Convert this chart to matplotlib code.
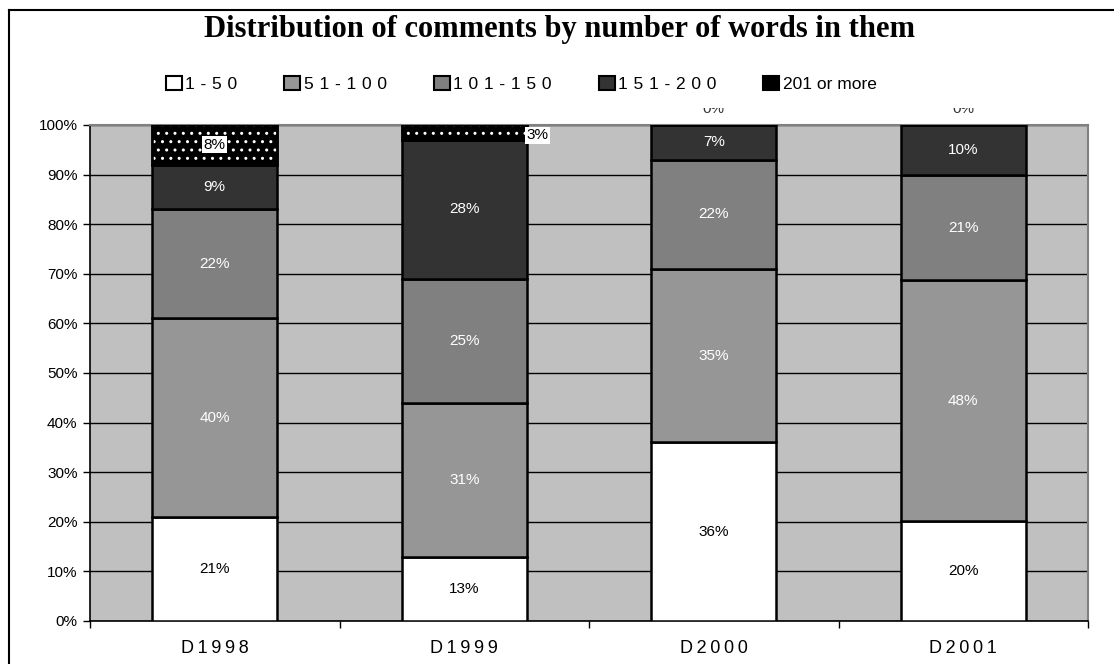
import matplotlib
matplotlib.use("Agg")
import matplotlib.pyplot as plt
from matplotlib.patches import Rectangle
from matplotlib.lines import Line2D
import numpy as np

plt.rcParams['font.family'] = ['Liberation Sans', 'DejaVu Sans']

years = ["D1998", "D1999", "D2000", "D2001"]
bins = ["1-50", "51-100", "101-150", "151-200", "201 or more"]
v_1_50 = [21, 13, 36, 20]
v_51_100 = [40, 31, 35, 48]
v_101_150 = [22, 25, 22, 21]
v_151_200 = [9, 28, 7, 10]
v_201_more = [8, 3, 0, 0]

series = [v_1_50, v_51_100, v_101_150, v_151_200, v_201_more]
fills = ["#ffffff", "#969696", "#808080", "#333333", "#000000"]
label_colors = ["black", "white", "white", "white", "black"]

W, H = 1114, 664
fig = plt.figure(figsize=(W / 100, H / 100), dpi=100)
ax = fig.add_axes([90 / W, 1 - 621 / H, (1088 - 90) / W, (621 - 125) / H])
ax.set_facecolor("#c0c0c0")

data = np.array(series, dtype=float)
totals = data.sum(axis=0)
shares = data / totals * 100
x = np.arange(len(years))
bw = 0.5
lab_fs = 11

bottom = np.zeros(len(years))
for k, (vals, share) in enumerate(zip(series, shares)):
    ax.bar(x, share, bw, bottom=bottom, color=fills[k],
           edgecolor="black", linewidth=1.8, zorder=3)
    if k == 4:
        ax.bar(x, share, bw, bottom=bottom, facecolor="none",
               edgecolor="white", hatch="..", linewidth=0, zorder=4)
        ax.bar(x, share, bw, bottom=bottom, facecolor="none",
               edgecolor="black", linewidth=1.8, zorder=4)
    for i, (v, s) in enumerate(zip(vals, share)):
        cy = bottom[i] + s / 2
        txt = f"{v:.0f}%"
        if k == 4:
            if v == 0:
                ax.text(x[i], 100 + 2.4, txt, ha="center", va="baseline",
                        fontsize=lab_fs, color="#333333", clip_on=False, zorder=2)
            elif s < 5:
                ax.text(x[i] + bw / 2, cy - 0.6, txt, ha="left", va="center",
                        fontsize=lab_fs, color="black", zorder=6,
                        bbox=dict(facecolor="white", edgecolor="none", pad=1))
            else:
                ax.text(x[i], cy, txt, ha="center", va="center",
                        fontsize=lab_fs, color="black", zorder=6,
                        bbox=dict(facecolor="white", edgecolor="none", pad=1))
        else:
            ax.text(x[i], cy, txt, ha="center", va="center", fontsize=lab_fs,
                    color=label_colors[k], zorder=6)
    bottom += share

ax.set_xlim(-0.5, len(years) - 0.5)
ax.set_ylim(0, 100)
ax.set_yticks(np.arange(0, 101, 10))
ax.set_yticklabels([f"{t}%" for t in range(0, 101, 10)], fontsize=11)
ax.yaxis.grid(True, color="black", linewidth=1.0, zorder=1)
ax.set_axisbelow(True)

ax.set_xticks(np.arange(-0.5, len(years)), minor=False)
ax.set_xticklabels([])
ax.set_xticks(x, minor=True)
ax.set_xticklabels(["\u2009".join(y) for y in years], minor=True, fontsize=13)
ax.tick_params(axis="x", which="minor", length=0, pad=14)
ax.tick_params(axis="x", which="major", length=5, direction="out", width=1)
ax.tick_params(axis="y", length=5, direction="out", width=1, pad=4)

for side in ("left", "bottom"):
    ax.spines[side].set_color("black")
    ax.spines[side].set_linewidth(1.2)
for side in ("right", "top"):
    ax.spines[side].set_color("#808080")
    ax.spines[side].set_linewidth(1.5)

# white legend box, lying over the upper part of the labels above the bars
fig.patches.append(Rectangle((150 / W, 1 - 108 / H), 830 / W, 48 / H,
                             transform=fig.transFigure, facecolor="white",
                             edgecolor="none", zorder=1))
handles = [Rectangle((0, 0), 1, 1, facecolor=fills[k], edgecolor="black", linewidth=1.5)
           for k in range(5)]
sp = "\u2004"
leg_labels = [sp.join(b) for b in bins[:4]] + ["201 or more"]
leg = fig.legend(handles, leg_labels, ncol=5, loc="center left",
                 bbox_to_anchor=(166 / W, 1 - 84 / H), frameon=False,
                 borderpad=0, borderaxespad=0,
                 fontsize=12.5, handlelength=0.92, handleheight=0.92,
                 handletextpad=0.2, columnspacing=2.7)
leg.set_zorder(5)

fig.text(560 / W, 1 - 29 / H, "Distribution of comments by number of words in them",
         ha="center", va="center", fontsize=22, fontweight="bold",
         family=["Liberation Serif", "DejaVu Serif"])

# outer frame
fig.add_artist(Line2D([9 / W, 9 / W], [0, 1 - 10 / H], transform=fig.transFigure,
                      color="black", linewidth=1.5))
fig.add_artist(Line2D([9 / W, 1], [1 - 10 / H, 1 - 10 / H], transform=fig.transFigure,
                      color="black", linewidth=1.5))

fig.savefig("out.png", dpi=100)
